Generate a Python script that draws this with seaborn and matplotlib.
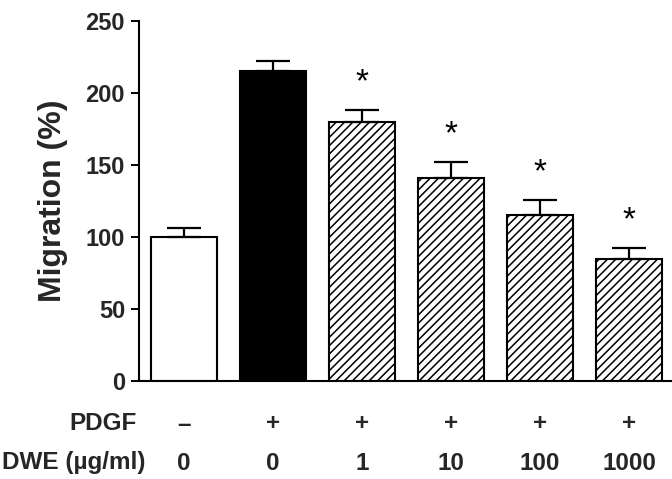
import matplotlib
matplotlib.use("Agg")
import matplotlib.pyplot as plt
import seaborn as sns
import pandas as pd
import numpy as np

groups = ["g1", "g2", "g3", "g4", "g5", "g6"]
migration = [100, 215, 180, 141, 115, 85]
sem = [6.5, 7, 8, 11, 10.5, 7.5]
pdgf_signs = ["–", "+", "+", "+", "+", "+"]
dwe_doses = ["0", "0", "1", "10", "100", "1000"]
significant = [False, False, True, True, True, True]
yticks = [0, 50, 100, 150, 200, 250]

sns.set_theme(style="ticks")
plt.rcParams['font.family'] = ['Liberation Sans', 'DejaVu Sans']
plt.rcParams['hatch.linewidth'] = 1.1

df = pd.DataFrame({"group": groups, "migration": migration})

fig = plt.figure(figsize=(6.72, 4.79), dpi=100)
ax = fig.add_axes([139/672, 1-381/479, 1-139/672, (381-21)/479])

sns.barplot(data=df, x="group", y="migration", order=groups, errorbar=None,
            width=0.75, ax=ax, color="white", edgecolor="black", linewidth=1.5)

fills = ["white", "black", "white", "white", "white", "white"]
hatches = [None, None, "////", "////", "////", "////"]
for patch, fc, h in zip(ax.patches, fills, hatches):
    patch.set_facecolor(fc)
    patch.set_edgecolor("black")
    if h:
        patch.set_hatch(h)

x = np.arange(len(groups))
ax.errorbar(x, migration, yerr=[np.zeros(len(sem)), sem], fmt="none",
            ecolor="black", elinewidth=1.6, capsize=12, capthick=1.6, zorder=1)

for xi, m, e, s in zip(x, migration, sem, significant):
    if s:
        ax.text(xi, m + e + 19, "*", ha="center", va="center", fontsize=24,
                color="black")

ax.set_xlim(-0.506, 5.483)
ax.set_ylim(0, 250)
ax.set_yticks(yticks)
ax.set_yticklabels([str(t) for t in yticks], fontsize=17, fontweight="bold")
ax.set_xticks([])
ax.set_xlabel("")
ax.set_ylabel("Migration (%)", fontsize=23, fontweight="bold", labelpad=13)
ax.tick_params(axis="y", length=6, width=1.4, color="black", pad=4)
for sp in ["top", "right"]:
    ax.spines[sp].set_visible(False)
for sp in ["left", "bottom"]:
    ax.spines[sp].set_linewidth(1.5)
    ax.spines[sp].set_color("black")

trans = matplotlib.transforms.blended_transform_factory(ax.transData, ax.transAxes)
y1 = (381-424)/360
y2 = (381-463)/360
for xi, s, d in zip(x, pdgf_signs, dwe_doses):
    ax.text(xi, y1, s, transform=trans, ha="center", va="center", fontsize=17.5,
            fontweight="bold", clip_on=False)
    ax.text(xi, y2, d, transform=trans, ha="center", va="center", fontsize=17.5,
            fontweight="bold", clip_on=False)

fig.text(137/672, 1-424/479, "PDGF", ha="right", va="center", fontsize=17.5, fontweight="bold")
fig.text(145/672, 1-463/479, "DWE (µg/ml)", ha="right", va="center", fontsize=17.5, fontweight="bold")

fig.savefig("out.png", dpi=100)
